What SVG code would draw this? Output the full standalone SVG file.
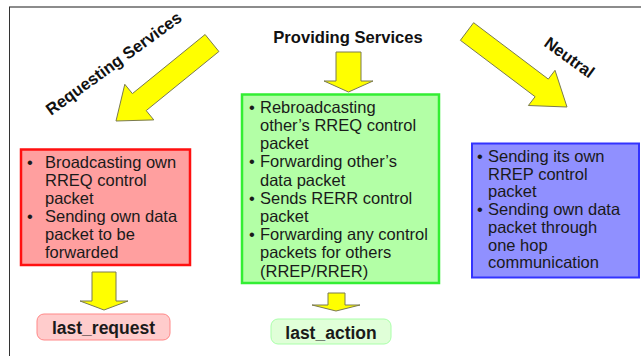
<svg xmlns="http://www.w3.org/2000/svg" width="641" height="356" viewBox="0 0 641 356">
<style>
.body{font-family:"Liberation Sans",Arial,sans-serif;font-size:16.5px;fill:#1a1a1a}
.hdr{font-family:"Liberation Sans",Arial,sans-serif;font-size:16.6px;font-weight:bold;fill:#111}
.lbl{font-family:"Liberation Sans",Arial,sans-serif;font-size:17.5px;font-weight:bold;fill:#1a1a1a;text-anchor:middle}
.arrow{fill:#ffff00;stroke:#7a7a50;stroke-width:1;stroke-linejoin:miter}
</style>
<rect width="641" height="356" fill="#ffffff"/>
<g id="frame">
<line x1="9" y1="7" x2="641" y2="7" stroke="#666" stroke-width="1.5"/>
<line x1="9.5" y1="7" x2="9.5" y2="356" stroke="#333" stroke-width="1"/>
</g>
<g id="headers">
<text class="hdr" text-anchor="middle" transform="translate(117,68) rotate(-36)">Requesting Services</text>
<text class="hdr" x="348" y="43" text-anchor="middle">Providing Services</text>
<text class="hdr" text-anchor="middle" transform="translate(566,62) rotate(36)">Neutral</text>
</g>
<g id="connectors">
<polygon class="arrow" points="218.9,51.5 205.1,34.5 132.4,93.6 124.8,84.3 116,121 153.8,119.9 146.2,110.6"/>
<polygon class="arrow" points="336,52 361,52 361,81 373,81 348.5,92 324,81 336,81"/>
<polygon class="arrow" points="460.4,40.3 473.6,22.7 548.3,79.1 555,70.3 567,107 528.4,105.5 535.1,96.7"/>
<polygon class="arrow" points="92,272 116,272 116,301 128,301 104,310 80,301 92,301"/>
<polygon class="arrow" points="328,293 345,293 345,305 360,305 336,311 312,305 328,305"/>
</g>
<g id="requesting">
<rect x="21" y="149.5" width="169" height="115.5" fill="#ff9f9f" stroke="#ff1010" stroke-width="2.5"/>
<text class="body" x="27" y="168">•</text>
<text class="body" x="45" y="168">Broadcasting own</text>
<text class="body" x="45" y="186">RREQ control</text>
<text class="body" x="45" y="204">packet</text>
<text class="body" x="27" y="222">•</text>
<text class="body" x="45" y="222">Sending own data</text>
<text class="body" x="45" y="240">packet to be</text>
<text class="body" x="45" y="257.5">forwarded</text>
</g>
<g id="providing">
<rect x="242" y="94.5" width="197" height="188.5" fill="#b3ffa6" stroke="#33ee33" stroke-width="2.5"/>
<text class="body" x="249" y="112.7">•</text>
<text class="body" x="260" y="112.7">Rebroadcasting</text>
<text class="body" x="260" y="130.9">other’s RREQ control</text>
<text class="body" x="260" y="149.1">packet</text>
<text class="body" x="249" y="167.3">•</text>
<text class="body" x="260" y="167.3">Forwarding other’s</text>
<text class="body" x="260" y="185.5">data packet</text>
<text class="body" x="249" y="203.7">•</text>
<text class="body" x="260" y="203.7">Sends RERR control</text>
<text class="body" x="260" y="221.9">packet</text>
<text class="body" x="249" y="240.1">•</text>
<text class="body" x="260" y="240.1">Forwarding any control</text>
<text class="body" x="260" y="258.3">packets for others</text>
<text class="body" x="260" y="276.5">(RREP/RRER)</text>
</g>
<g id="neutral">
<rect x="472" y="143.5" width="167" height="134" fill="#9090ff" stroke="#3333ff" stroke-width="2"/>
<text class="body" x="477" y="162">•</text>
<text class="body" x="488" y="162">Sending its own</text>
<text class="body" x="488" y="179.7">RREP control</text>
<text class="body" x="488" y="197.4">packet</text>
<text class="body" x="477" y="215.1">•</text>
<text class="body" x="488" y="215.1">Sending own data</text>
<text class="body" x="488" y="232.8">packet through</text>
<text class="body" x="488" y="250.5">one hop</text>
<text class="body" x="488" y="268.2">communication</text>
</g>
<g id="last_request">
<rect x="37" y="314" width="133" height="26" rx="7" fill="#ffcccc" stroke="#ff8888" stroke-width="1"/>
<text class="lbl" x="103.5" y="334">last_request</text>
</g>
<g id="last_action">
<rect x="271" y="319" width="120" height="25" rx="7" fill="#e0ffd8" stroke="#aaffaa" stroke-width="1"/>
<text class="lbl" x="331" y="338.5">last_action</text>
</g>
</svg>
